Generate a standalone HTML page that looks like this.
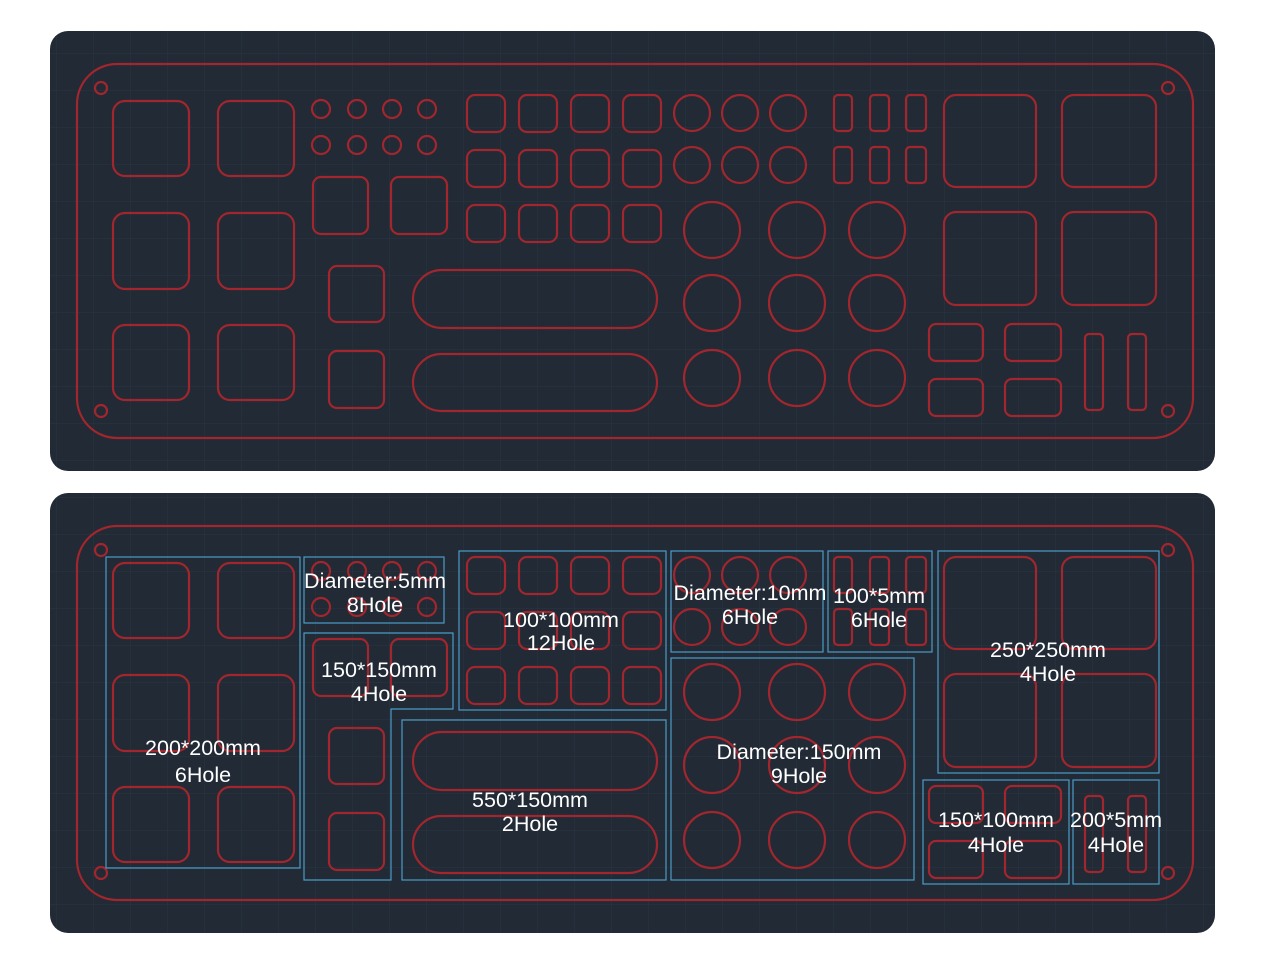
<!DOCTYPE html>
<html><head><meta charset="utf-8"><style>
html,body{margin:0;padding:0;background:#fff;}
svg{display:block;}
text{font-family:"Liberation Sans",sans-serif;font-size:21.5px;fill:#fff;text-anchor:middle;}
</style></head><body>
<svg width="1284" height="963" viewBox="0 0 1284 963" xmlns="http://www.w3.org/2000/svg">
<defs>
<pattern id="grid" x="19" y="16" width="37" height="37" patternUnits="userSpaceOnUse">
<path d="M0 0V37M0 0H37" stroke="#2c3643" stroke-width="1" fill="none"/>
</pattern>
<g id="shapes" fill="none" stroke="#a2262d" stroke-width="2.2">
<rect x="77" y="64" width="1116" height="374" rx="40"/>
<circle cx="101" cy="88" r="6"/><circle cx="1168" cy="88" r="6"/>
<circle cx="101" cy="411" r="6"/><circle cx="1168" cy="411" r="6"/>
<rect x="113" y="101" width="76" height="75" rx="12"/><rect x="218" y="101" width="76" height="75" rx="12"/>
<rect x="113" y="213" width="76" height="76" rx="12"/><rect x="218" y="213" width="76" height="76" rx="12"/>
<rect x="113" y="325" width="76" height="75" rx="12"/><rect x="218" y="325" width="76" height="75" rx="12"/>
<circle cx="321" cy="109" r="9"/><circle cx="357" cy="109" r="9"/><circle cx="392" cy="109" r="9"/><circle cx="427" cy="109" r="9"/>
<circle cx="321" cy="145" r="9"/><circle cx="357" cy="145" r="9"/><circle cx="392" cy="145" r="9"/><circle cx="427" cy="145" r="9"/>
<rect x="313" y="177" width="55" height="57" rx="8"/><rect x="391" y="177" width="56" height="57" rx="8"/>
<rect x="329" y="266" width="55" height="56" rx="8"/><rect x="329" y="351" width="55" height="57" rx="8"/>
<rect x="413" y="270" width="244" height="58" rx="29"/><rect x="413" y="354" width="244" height="57" rx="28.5"/>
<rect x="467" y="95" width="38" height="37" rx="8"/><rect x="519" y="95" width="38" height="37" rx="8"/><rect x="571" y="95" width="38" height="37" rx="8"/><rect x="623" y="95" width="38" height="37" rx="8"/>
<rect x="467" y="150" width="38" height="37" rx="8"/><rect x="519" y="150" width="38" height="37" rx="8"/><rect x="571" y="150" width="38" height="37" rx="8"/><rect x="623" y="150" width="38" height="37" rx="8"/>
<rect x="467" y="205" width="38" height="37" rx="8"/><rect x="519" y="205" width="38" height="37" rx="8"/><rect x="571" y="205" width="38" height="37" rx="8"/><rect x="623" y="205" width="38" height="37" rx="8"/>
<circle cx="692" cy="113" r="18"/><circle cx="740" cy="113" r="18"/><circle cx="788" cy="113" r="18"/>
<circle cx="692" cy="165" r="18"/><circle cx="740" cy="165" r="18"/><circle cx="788" cy="165" r="18"/>
<rect x="834" y="95" width="18" height="36" rx="4"/><rect x="870" y="95" width="19" height="36" rx="4"/><rect x="906" y="95" width="20" height="36" rx="4"/>
<rect x="834" y="147" width="18" height="36" rx="4"/><rect x="870" y="147" width="19" height="36" rx="4"/><rect x="906" y="147" width="20" height="36" rx="4"/>
<circle cx="712" cy="230" r="28"/><circle cx="797" cy="230" r="28"/><circle cx="877" cy="230" r="28"/>
<circle cx="712" cy="303" r="28"/><circle cx="797" cy="303" r="28"/><circle cx="877" cy="303" r="28"/>
<circle cx="712" cy="378" r="28"/><circle cx="797" cy="378" r="28"/><circle cx="877" cy="378" r="28"/>
<rect x="944" y="95" width="92" height="92" rx="12"/><rect x="1062" y="95" width="94" height="92" rx="12"/>
<rect x="944" y="212" width="92" height="93" rx="12"/><rect x="1062" y="212" width="94" height="93" rx="12"/>
<rect x="929" y="324" width="54" height="37" rx="7"/><rect x="1005" y="324" width="56" height="37" rx="7"/>
<rect x="929" y="379" width="54" height="37" rx="7"/><rect x="1005" y="379" width="56" height="37" rx="7"/>
<rect x="1085" y="334" width="18" height="76" rx="4"/><rect x="1128" y="334" width="18" height="76" rx="4"/>
</g>
</defs>
<rect x="50" y="31" width="1165" height="440" rx="18" fill="#212a35"/>
<rect x="50" y="31" width="1165" height="440" rx="18" fill="url(#grid)"/>
<rect x="50" y="493" width="1165" height="440" rx="18" fill="#212a35"/>
<rect x="50" y="493" width="1165" height="440" rx="18" fill="url(#grid)"/>
<use href="#shapes"/>
<use href="#shapes" transform="translate(0,462)"/>
<g fill="none" stroke="#4a9cc8" stroke-width="1.2">
<rect x="106" y="557" width="194" height="311"/>
<rect x="304" y="557" width="140" height="66"/>
<polygon points="304,633 453,633 453,709 391,709 391,880 304,880"/>
<rect x="459" y="551" width="207" height="159"/>
<rect x="402" y="720" width="264" height="160"/>
<rect x="671" y="551" width="152" height="101"/>
<rect x="828" y="551" width="104" height="101"/>
<rect x="671" y="658" width="243" height="222"/>
<rect x="938" y="551" width="221" height="222"/>
<rect x="923" y="780" width="146" height="104"/>
<rect x="1073" y="780" width="86" height="104"/>
</g>
<text x="203" y="755">200*200mm</text><text x="203" y="782">6Hole</text>
<text x="375" y="588" textLength="142">Diameter:5mm</text><text x="375" y="612">8Hole</text>
<text x="379" y="677">150*150mm</text><text x="379" y="701">4Hole</text>
<text x="561" y="627">100*100mm</text><text x="561" y="650">12Hole</text>
<text x="530" y="807">550*150mm</text><text x="530" y="831">2Hole</text>
<text x="750" y="600">Diameter:10mm</text><text x="750" y="624">6Hole</text>
<text x="879" y="603">100*5mm</text><text x="879" y="627">6Hole</text>
<text x="799" y="759">Diameter:150mm</text><text x="799" y="783">9Hole</text>
<text x="1048" y="657">250*250mm</text><text x="1048" y="681">4Hole</text>
<text x="996" y="827">150*100mm</text><text x="996" y="852">4Hole</text>
<text x="1116" y="827">200*5mm</text><text x="1116" y="852">4Hole</text>
</svg>
</body></html>
